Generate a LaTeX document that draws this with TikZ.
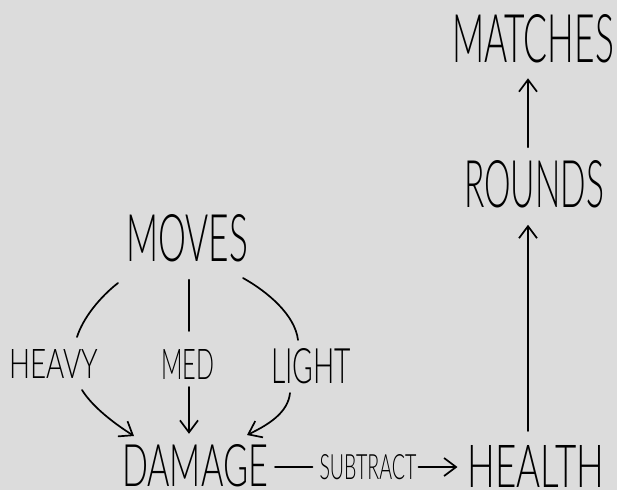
\documentclass[tikz,border=0pt]{standalone}
\usepackage{fontspec}
\newfontfamily\hw{Lato Light}
\usetikzlibrary{arrows.meta,calc}
\definecolor{bg}{RGB}{220,220,220}
\newcommand{\hwt}[3]{\resizebox{#1pt}{#2pt}{\hw #3}}
\begin{document}
\begin{tikzpicture}[x=1pt,y=-1pt,
  line width=1.7pt, line cap=round, line join=round,
  >={Straight Barb[length=12pt,width=18pt,line width=1.7pt]},
  lbl/.style={inner sep=0pt, outer sep=0pt}]
\fill[bg] (0,0) rectangle (617,490);
\useasboundingbox (0,0) rectangle (617,490);
% nodes
\node[lbl] (matches) at (533,39)  {\hwt{162}{48}{MATCHES}};
\node[lbl] (rounds)  at (534,184) {\hwt{140}{47}{ROUNDS}};
\node[lbl] (moves)   at (187,238) {\hwt{122}{47}{MOVES}};
\node[lbl] (heavy)   at (54,364)  {\hwt{89}{29}{HEAVY}};
\node[lbl] (med)     at (188,364) {\hwt{53}{30}{MED}};
\node[lbl] (light)   at (311,366) {\hwt{80}{35}{LIGHT}};
\node[lbl] (damage)  at (195,466) {\hwt{146}{42}{DAMAGE}};
\node[lbl] (subtract) at (368,467) {\hwt{97}{25}{SUBTRACT}};
\node[lbl] (health)  at (536,466) {\hwt{137}{42}{HEALTH}};
% free ends
\coordinate (la1) at (118,283);
\coordinate (la2) at (77,337);
\coordinate (ra1) at (243,278);
\coordinate (ra2) at (298,340);
\coordinate (ha1) at (82,390);
\coordinate (ha2) at (134,436);
\coordinate (ga1) at (290,393);
\coordinate (ga2) at (247,435);
\coordinate (mx) at (189,0);
\coordinate (rx) at (528,0);
% connectors
\draw (la1) .. controls (100,297) and (83,318) .. (la2);
\draw (ra1) .. controls (268,292) and (295,315) .. (ra2);
\draw[->] (ha1) .. controls (92,406) and (112,422) .. (ha2);
\draw[->] (ga1) .. controls (288,412) and (270,424) .. (ga2);
\draw[shorten <=18pt, shorten >=18pt] (mx |- moves.south) -- (mx |- med.north);
\draw[->, shorten <=8pt, shorten >=11pt] (mx |- med.south) -- (mx |- damage.north);
\draw[shorten <=7pt, shorten >=7pt] (damage.east |- subtract.west) -- (subtract.west);
\draw[->, shorten <=2pt, shorten >=10pt] (subtract.east) -- (health.west |- subtract.east);
\draw[->, shorten <=14pt, shorten >=17pt] (rx |- health.north) -- (rx |- rounds.south);
\draw[->, shorten <=13pt, shorten >=15pt] (rx |- rounds.north) -- (rx |- matches.south);
\end{tikzpicture}
\end{document}
